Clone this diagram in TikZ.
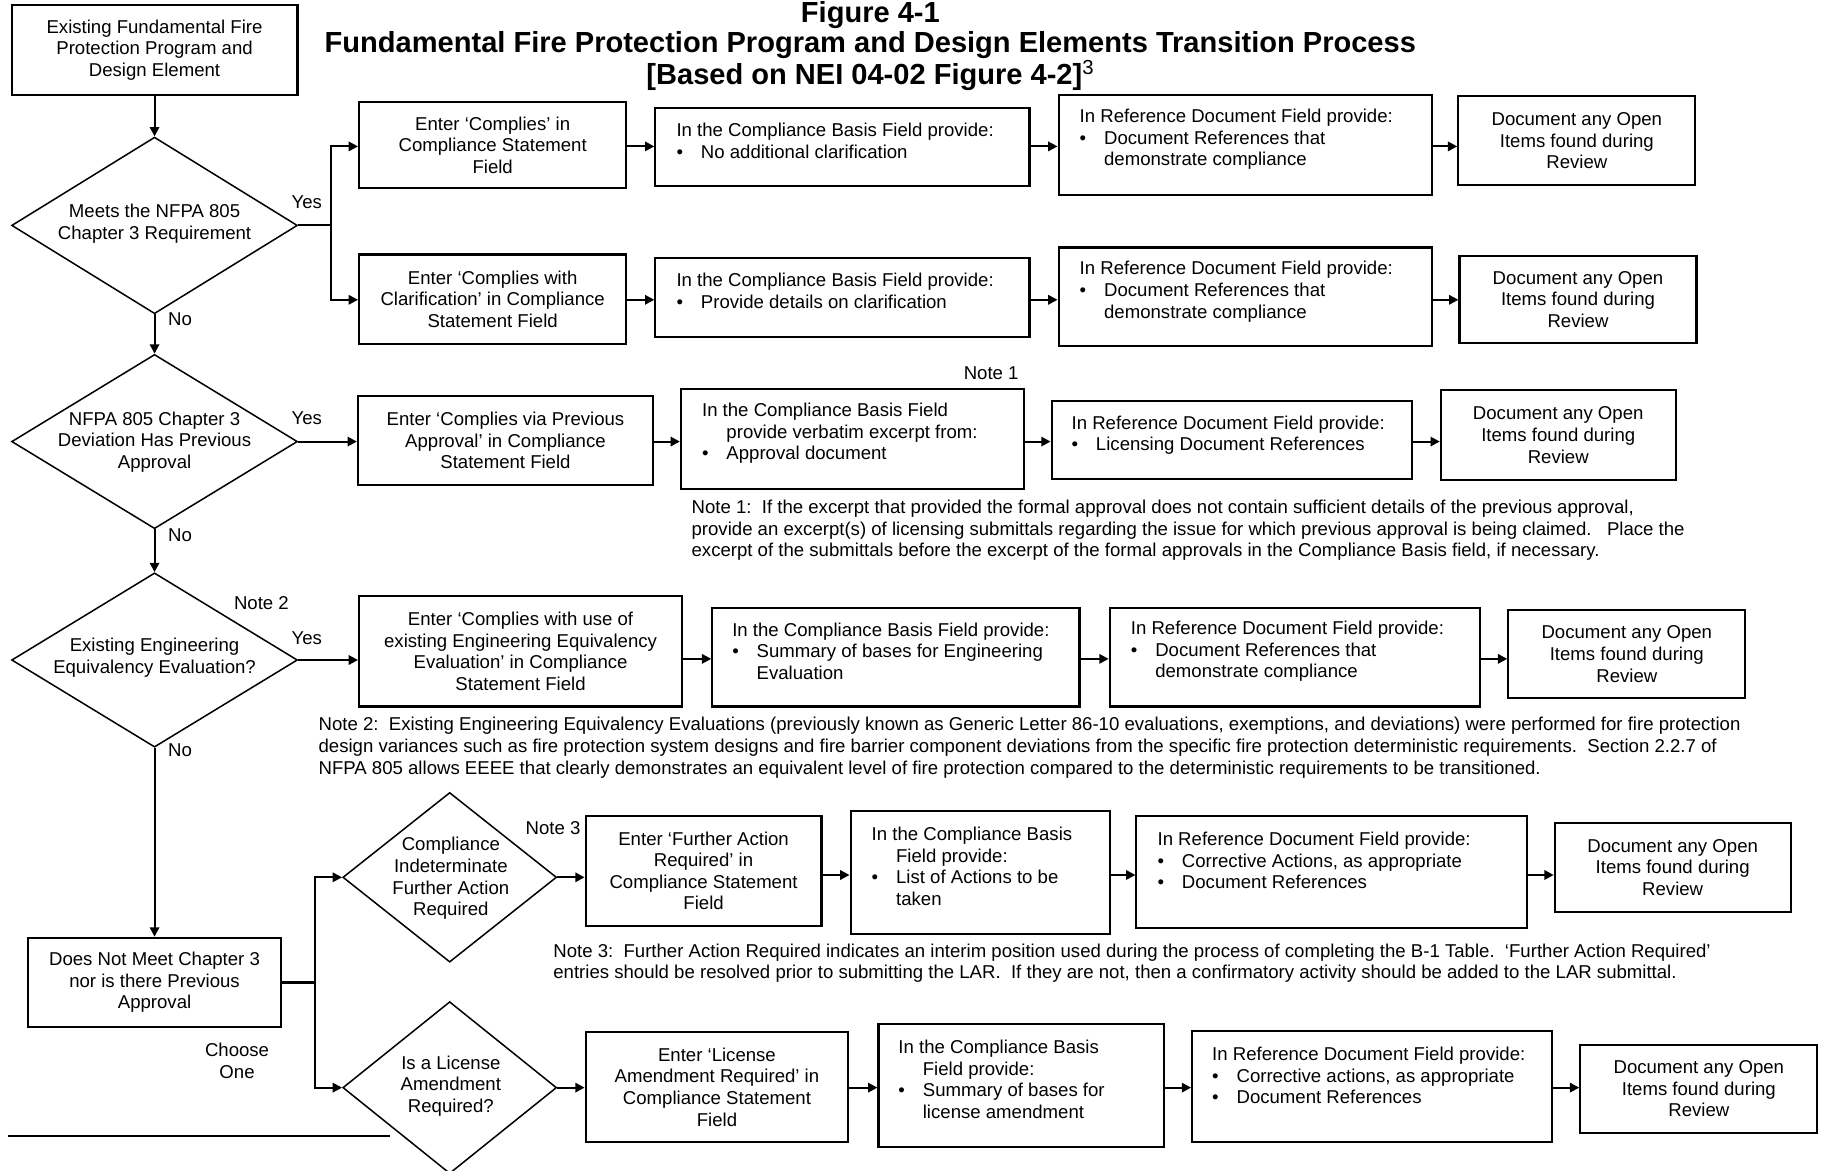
\documentclass[tikz,border=0pt]{standalone}
\usepackage{fontspec}
\setmainfont{Liberation Sans}
\usetikzlibrary{arrows.meta,shapes.geometric}
\newcommand{\bul}{\makebox[21pt][l]{\textbullet}}
\newcommand{\ind}{\hspace*{21pt}}
\begin{document}
\begin{tikzpicture}[x=1pt,y=-1pt,
  every node/.style={font=\fontsize{16}{18.6}\selectfont, inner sep=0pt},
  box/.style={draw, line width=1.8pt, align=center},
  dia/.style={draw, diamond, line width=1.3pt, inner sep=0pt},
  txt/.style={align=left, anchor=west},
  ctxt/.style={align=center},
  title/.style={font=\bfseries\fontsize{25}{29}\selectfont, anchor=base},
  arr/.style={line width=1.8pt, -{Triangle[length=8pt,width=8pt]}},
  ln/.style={line width=1.8pt}]
\fill[white] (0,0) rectangle (1568,1007);
\useasboundingbox (0,0) rectangle (1568,1007);

% titles
\node[title] (t1) at (749,19) {Figure 4-1};
\node[title] (t2) at (749,45) {Fundamental Fire Protection Program and Design Elements Transition Process};
\node[title] (t3) at (749,73) {[Based on NEI 04-02 Figure 4-2]\textsuperscript{\mdseries 3}};

% row coordinates
\coordinate (ya) at (0,126);
\coordinate (yb) at (0,258);
\coordinate (yc) at (0,380);
\coordinate (yd) at (0,567);
\coordinate (ye) at (0,753);
\coordinate (yf) at (0,936);

% start
\node[box, minimum width=246, minimum height=78] (a) at (133,43) {Existing Fundamental Fire\\Protection Program and\\Design Element};

% decision 1
\node[dia, minimum width=246, minimum height=152] (d1) at (133,194) {};
\node[ctxt] (d1t) at (133,192.5) {Meets the NFPA 805\\Chapter 3 Requirement};
\coordinate (j1) at (285,194);

% row 1
\node[box, minimum width=230, minimum height=74] (b1) at (424,125) {Enter ‘Complies’ in\\Compliance Statement\\Field};
\node[box, minimum width=322, minimum height=67] (c1) at (725,126.5) {};
\node[txt] (c1t) at (582,121) {In the Compliance Basis Field provide:\\\bul No additional clarification};
\node[box, minimum width=321, minimum height=86] (r1) at (1071.5,125) {};
\node[txt] (r1t) at (929,120) {In Reference Document Field provide:\\\bul Document References that\\\ind demonstrate compliance};
\node[box, minimum width=204, minimum height=76] (o1) at (1357,121) {Document any Open\\Items found during\\Review};

% row 2
\node[box, minimum width=230, minimum height=77] (b2) at (424,257.5) {Enter ‘Complies with\\Clarification’ in Compliance\\Statement Field};
\node[box, minimum width=322, minimum height=68] (c2) at (725,256) {};
\node[txt] (c2t) at (582,250.5) {In the Compliance Basis Field provide:\\\bul Provide details on clarification};
\node[box, minimum width=321, minimum height=85] (r2) at (1071.5,255.5) {};
\node[txt] (r2t) at (929,251) {In Reference Document Field provide:\\\bul Document References that\\\ind demonstrate compliance};
\node[box, minimum width=204, minimum height=75] (o2) at (1358,257.5) {Document any Open\\Items found during\\Review};

% decision 2
\node[dia, minimum width=246, minimum height=150] (d2) at (133,380) {};
\node[ctxt] (d2t) at (133,380.5) {NFPA 805 Chapter 3\\Deviation Has Previous\\Approval};

% row 3
\node[box, minimum width=254, minimum height=76] (b3) at (435,379) {Enter ‘Complies via Previous\\Approval’ in Compliance\\Statement Field};
\node[box, minimum width=295, minimum height=86] (c3) at (733.5,378) {};
\node[txt] (c3t) at (604,373) {In the Compliance Basis Field\\\ind provide verbatim excerpt from:\\\bul Approval document};
\node[box, minimum width=310, minimum height=67] (r3) at (1060,378.5) {};
\node[txt] (r3t) at (922,374.5) {In Reference Document Field provide:\\\bul Licensing Document References};
\node[box, minimum width=202, minimum height=77] (o3) at (1341,374.5) {Document any Open\\Items found during\\Review};
\node (n1l) at (853,321) {Note 1};
\node[txt] (n1) at (595,456.5) {Note 1:\ \ If the excerpt that provided the formal approval does not contain sufficient details of the previous approval,\\provide an excerpt(s) of licensing submittals regarding the issue for which previous approval is being claimed.\ \ \ Place the\\excerpt of the submittals before the excerpt of the formal approvals in the Compliance Basis field, if necessary.};

% decision 3
\node[dia, minimum width=246, minimum height=150] (d3) at (133,568) {};
\node[ctxt] (d3t) at (133,566) {Existing Engineering\\Equivalency Evaluation?};
\node (n2l) at (225,519) {Note 2};

% row 4
\node[box, minimum width=278, minimum height=95] (b4) at (448,560.5) {Enter ‘Complies with use of\\existing Engineering Equivalency\\Evaluation’ in Compliance\\Statement Field};
\node[box, minimum width=316, minimum height=85] (c4) at (771,565.5) {};
\node[txt] (c4t) at (630,560.5) {In the Compliance Basis Field provide:\\\bul Summary of bases for Engineering\\\ind Evaluation};
\node[box, minimum width=319, minimum height=85] (r4) at (1114.5,565.5) {};
\node[txt] (r4t) at (973,560.5) {In Reference Document Field provide:\\\bul Document References that\\\ind demonstrate compliance};
\node[box, minimum width=204, minimum height=76] (o4) at (1400,563) {Document any Open\\Items found during\\Review};
\node[txt] (n2) at (274,643.5) {Note 2:\ \ Existing Engineering Equivalency Evaluations (previously known as Generic Letter 86-10 evaluations, exemptions, and deviations) were performed for fire protection\\design variances such as fire protection system designs and fire barrier component deviations from the specific fire protection deterministic requirements.\ \ Section 2.2.7 of\\NFPA 805 allows EEEE that clearly demonstrates an equivalent level of fire protection compared to the deterministic requirements to be transitioned.};

% does not meet
\node[box, minimum width=218, minimum height=77] (e) at (133,845.5) {Does Not Meet Chapter 3\\nor is there Previous\\Approval};
\coordinate (j2) at (271,845.5);
\node[ctxt] (ch) at (204,913) {Choose\\One};

% decision 4
\node[dia, minimum width=184, minimum height=146] (d4) at (387,755) {};
\node[ctxt] (d4t) at (388,756) {Compliance\\Indeterminate\\Further Action\\Required};
\node (n3l) at (476,713) {Note 3};

% row 5
\node[box, minimum width=203, minimum height=95] (b5) at (605.5,749.5) {Enter ‘Further Action\\Required’ in\\Compliance Statement\\Field};
\node[box, minimum width=223, minimum height=106] (c5) at (843.5,751) {};
\node[txt] (c5t) at (750,745.5) {In the Compliance Basis\\\ind Field provide:\\\bul List of Actions to be\\\ind taken};
\node[box, minimum width=336, minimum height=97] (r5) at (1146,750.5) {};
\node[txt] (r5t) at (996,740.5) {In Reference Document Field provide:\\\bul Corrective Actions, as appropriate\\\bul Document References};
\node[box, minimum width=203, minimum height=77] (o5) at (1439.5,746.5) {Document any Open\\Items found during\\Review};
\node[txt] (n3) at (476,829) {Note 3:\ \ Further Action Required indicates an interim position used during the process of completing the B-1 Table.\ \ ‘Further Action Required’\\entries should be resolved prior to submitting the LAR.\ \ If they are not, then a confirmatory activity should be added to the LAR submittal.};

% decision 5
\node[dia, minimum width=184, minimum height=148] (d5) at (387,936) {};
\node[ctxt] (d5t) at (388,934.5) {Is a License\\Amendment\\Required?};

% row 6
\node[box, minimum width=226, minimum height=95] (b6) at (617,935.5) {Enter ‘License\\Amendment Required’ in\\Compliance Statement\\Field};
\node[box, minimum width=246, minimum height=106] (c6) at (879,934) {};
\node[txt] (c6t) at (773,929) {In the Compliance Basis\\\ind Field provide:\\\bul Summary of bases for\\\ind license amendment};
\node[box, minimum width=310, minimum height=96] (r6) at (1181,935) {};
\node[txt] (r6t) at (1043,925.5) {In Reference Document Field provide:\\\bul Corrective actions, as appropriate\\\bul Document References};
\node[box, minimum width=204, minimum height=76] (o6) at (1462,937) {Document any Open\\Items found during\\Review};

% yes / no labels
\node (y1) at (264,174) {Yes};
\node (no1) at (155,275) {No};
\node (y2) at (264,360) {Yes};
\node (no2) at (155,461) {No};
\node (y3) at (264,549) {Yes};
\node (no3) at (155,646) {No};

% connectors
\draw[arr] (a.south) -- (d1.north);
\draw[ln] (d1.east) -- (j1);
\draw[arr] (j1) |- (b1.west |- ya);
\draw[arr] (j1) |- (b2.west |- yb);
\draw[arr] (b1.east |- ya) -- (c1.west |- ya);
\draw[arr] (c1.east |- ya) -- (r1.west |- ya);
\draw[arr] (r1.east |- ya) -- (o1.west |- ya);
\draw[arr] (b2.east |- yb) -- (c2.west |- yb);
\draw[arr] (c2.east |- yb) -- (r2.west |- yb);
\draw[arr] (r2.east |- yb) -- (o2.west |- yb);

\draw[arr] (d1.south) -- (d2.north);
\draw[arr] (d2.east) -- (d2.east -| b3.west);
\draw[arr] (b3.east |- yc) -- (c3.west |- yc);
\draw[arr] (c3.east |- yc) -- (r3.west |- yc);
\draw[arr] (r3.east |- yc) -- (o3.west |- yc);

\draw[arr] (d2.south) -- (d3.north);
\draw[arr] (d3.east) -- (d3.east -| b4.west);
\draw[arr] (b4.east |- yd) -- (c4.west |- yd);
\draw[arr] (c4.east |- yd) -- (r4.west |- yd);
\draw[arr] (r4.east |- yd) -- (o4.west |- yd);

\draw[arr] (d3.south) -- (e.north);
\draw[ln] (e.east) -- (j2);
\draw[arr] (j2) |- (d4.west);
\draw[arr] (j2) |- (d5.west);
\draw[arr] (d4.east) -- (d4.east -| b5.west);
\draw[arr] (b5.east |- ye) -- (c5.west |- ye);
\draw[arr] (c5.east |- ye) -- (r5.west |- ye);
\draw[arr] (r5.east |- ye) -- (o5.west |- ye);
\draw[arr] (d5.east) -- (d5.east -| b6.west);
\draw[arr] (b6.east |- yf) -- (c6.west |- yf);
\draw[arr] (c6.east |- yf) -- (r6.west |- yf);
\draw[arr] (r6.east |- yf) -- (o6.west |- yf);

% footnote rule
\coordinate (fr1) at (7,978);
\coordinate (fr2) at (336,978);
\draw[ln] (fr1) -- (fr2);
\end{tikzpicture}
\end{document}
